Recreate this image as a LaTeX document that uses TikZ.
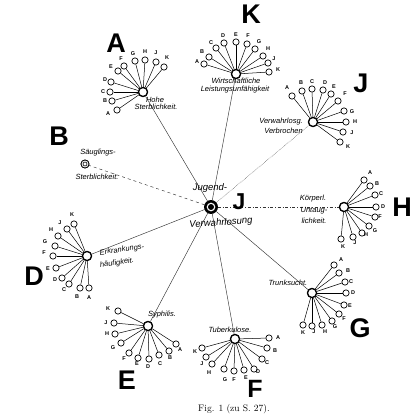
\documentclass[tikz,border=0pt]{standalone}
\usepackage{fontspec}
\setsansfont{Liberation Sans}
\begin{document}
\begin{tikzpicture}[x=1pt,y=-1pt,
  hub/.style={circle,draw,line width=1.2pt,minimum size=9pt,inner sep=0pt,fill=white},
  leaf/.style={circle,draw,line width=0.7pt,minimum size=6.3pt,inner sep=0pt,fill=white},
  lab/.style={font=\fontsize{5.5}{6}\selectfont\sffamily\bfseries,inner sep=0pt},
  txt/.style={font=\fontsize{7.5}{8}\selectfont\sffamily\itshape,inner sep=0pt},
  big/.style={font=\fontsize{27}{27}\selectfont\sffamily\bfseries,inner sep=0pt},
  spoke/.style={line width=0.5pt},
  main/.style={line width=0.45pt,black!80}]
\fill[white] (0,0) rectangle (417,417);
\useasboundingbox (0,0) rectangle (417,417);

% centre
\node[circle,draw,line width=1.9pt,minimum size=12pt,inner sep=0pt,fill=white] (c) at (211,207) {};

% hubs
\node[hub] (hA) at (143,92) {};
\node[hub] (hK) at (236,74) {};
\node[hub] (hJ) at (313,122) {};
\node[hub] (hH) at (344,207) {};
\node[hub] (hG) at (312,293) {};
\node[hub] (hF) at (235,339) {};
\node[hub] (hE) at (148,326) {};
\node[hub] (hD) at (87,256) {};
\node[circle,draw,line width=0.8pt,minimum size=8pt,inner sep=0pt,fill=white] (hB) at (85,164) {};

% main connectors
\draw[main] (c) -- (hA);
\draw[main] (c) -- (hK);
\draw[main,densely dotted] (c) -- (hJ);
\draw[main,dash dot] (c) -- (hH);
\draw[main] (c) -- (hG);
\draw[main] (c) -- (hF);
\draw[main] (c) -- (hE);
\draw[main] (c) -- (hD);
\draw[main,dashed] (c) -- (hB);

% cluster A
\foreach \x/\y/\lx/\ly/\t [count=\i] in {117/110/108/114/A,112/101/105/101/B,110/92/103/92/C,111/82/105/80/D,118/71/111/67/E,124/66/121/59/F,135/61/133/54/G,145/60/145/52/H,156/62/156/53/J,164/67/167/58/K}{
  \node[leaf] (A\i) at (\x,\y) {};
  \draw[spoke] (hA) -- (A\i);
  \node[lab] (A\i l) at (\lx,\ly) {\t};
}
% cluster K
\foreach \x/\y/\lx/\ly/\t [count=\i] in {204/64/197/62/A,209/57/202/52/B,216/48/211/43/C,224/43/223/36/D,236/42/236/35/E,247/44/248/36/F,255/49/259/42/G,263/56/268/49/H,268/63/274/59/J,269/72/278/70/K}{
  \node[leaf] (K\i) at (\x,\y) {};
  \draw[spoke] (hK) -- (K\i);
  \node[lab] (K\i l) at (\lx,\ly) {\t};
}
% cluster J
\foreach \x/\y/\lx/\ly/\t [count=\i] in {292/96/287/88/A,302/91/301/83/B,312/89/312/82/C,323/90/325/83/D,331/94/334/87/E,338/101/345/94/F,344/111/352/112/G,346/122/355/122/H,343/132/352/133/J,340/142/348/147/K}{
  \node[leaf] (J\i) at (\x,\y) {};
  \draw[spoke] (hJ) -- (J\i);
  \node[lab] (J\i l) at (\lx,\ly) {\t};
}
% cluster H
\foreach \x/\y/\lx/\ly/\t [count=\i] in {364/180/370/173/A,370/186/377/184/B,375/195/381/194/C,376/207/383/207/D,375/217/380/217/F,369/226/375/231/G,362/233/366/235/H,353/237/355/243/J,341/239/343/247/K}{
  \node[leaf] (H\i) at (\x,\y) {};
  \draw[spoke] (hH) -- (H\i);
  \node[lab] (H\i l) at (\lx,\ly) {\t};
}
% cluster G
\foreach \x/\y/\lx/\ly/\t [count=\i] in {334/265/341/260/A,339/273/348/271/B,345/282/351/282/C,346/293/353/293/D,344/305/350/306/E,339/314/344/319/F,332/321/335/327/G,322/325/325/332/H,312/326/314/332/J,303/325/303/333/K}{
  \node[leaf] (G\i) at (\x,\y) {};
  \draw[spoke] (hG) -- (G\i);
  \node[lab] (G\i l) at (\lx,\ly) {\t};
}
% cluster F
\foreach \x/\y/\lx/\ly/\t [count=\i] in {269/338/278/338/A,267/348/275/351/B,262/359/267/363/C,254/369/258/372/D,244/370/246/378/E,234/371/234/380/F,224/369/225/380/G,212/364/209/373/H,206/357/202/364/J,202/348/195/352/K}{
  \node[leaf] (F\i) at (\x,\y) {};
  \draw[spoke] (hF) -- (F\i);
  \node[lab] (F\i l) at (\lx,\ly) {\t};
}
% cluster E
\foreach \x/\y/\lx/\ly/\t [count=\i] in {176/344/180/350/A,169/351/170/358/B,159/355/160/364/C,149/359/148/367/D,138/358/137/364/E,129/353/124/359/F,121/343/113/348/G,115/334/107/334/H,114/323/106/323/J,118/311/108/309/K}{
  \node[leaf] (E\i) at (\x,\y) {};
  \draw[spoke] (hE) -- (E\i);
  \node[lab] (E\i l) at (\lx,\ly) {\t};
}
% cluster D
\foreach \x/\y/\lx/\ly/\t [count=\i] in {89/288/89/298/A,80/288/77/297/B,69/284/64/290/C,62/278/55/280/D,56/268/48/269/E,53/256/44/253/F,55/246/45/242/G,58/236/51/230/H,67/229/60/223/J,74/224/72/215/K}{
  \node[leaf] (D\i) at (\x,\y) {};
  \draw[spoke] (hD) -- (D\i);
  \node[lab] (D\i l) at (\lx,\ly) {\t};
}
% hubs drawn on top of spokes
\foreach \h in {hA,hK,hJ,hH,hG,hF,hE,hD}{\draw[line width=1.2pt,fill=white] (\h.center) circle (4.5pt);}
\draw[line width=0.8pt,fill=white] (hB.center) circle (4pt);
\draw[line width=0.6pt] (hB.center) circle (2pt);
\draw[line width=1.9pt,fill=white] (c.center) circle (5.5pt);
\fill (c.center) circle (3pt);

% texts
\node[txt] (tA1) at (155,100) {Hohe};
\node[txt] (tA2) at (156,107) {Sterblichkeit.};
\node[txt] (tK1) at (236,81) {Wirtschaftliche};
\node[txt] (tK2) at (235,90) {Leistungsunfähigkeit};
\node[txt,anchor=east] (tJ1) at (303,122) {Verwahrlosg.};
\node[txt,anchor=east] (tJ2) at (303,131) {Verbrochen};
\node[txt] (tH1) at (313,199) {Körperl.};
\node[txt] (tH2) at (314,211) {Untaug-};
\node[txt] (tH3) at (314,221) {lichkeit.};
\node[txt] (tG) at (288,283) {Trunksucht.};
\node[txt] (tF) at (230,330) {Tuberkulose.};
\node[txt] (tE) at (162,315) {Syphilis.};
\node[txt,rotate=8] (tD1) at (122,250) {Erkrankungs-};
\node[txt,rotate=8] (tD2) at (117,263) {häufigkeit.};
\node[txt] (tB1) at (98,153) {Säuglings-};
\node[txt] (tB2) at (97,177) {Sterblichkeit.};
\node[txt,font=\fontsize{9.5}{10}\selectfont\sffamily\itshape] (tc1) at (210,188) {Jugend-};
\node[txt,font=\fontsize{9.5}{10}\selectfont\sffamily\itshape,rotate=4] (tc2) at (221,223) {Verwahrlosung};

% big letters
\node[big] (LA) at (116,43) {A};
\node[big] (LK) at (251,14) {K};
\node[big] (LJ) at (361,83) {J};
\node[big] (LH) at (402,207) {H};
\node[big] (LG) at (360,328) {G};
\node[big,font=\fontsize{25}{25}\selectfont\sffamily\bfseries] (LF) at (255,389) {F};
\node[big] (LE) at (127,380) {E};
\node[big] (LD) at (34,276) {D};
\node[big] (LB) at (59,136) {B};
\node[big,font=\fontsize{23}{23}\selectfont\sffamily\bfseries] (Lc) at (239,202) {J};

% caption
\node[font=\fontsize{9.5}{10}\selectfont,inner sep=0pt] (cap) at (234,409.5) {Fig. 1 (zu S. 27).};
\end{tikzpicture}
\end{document}
